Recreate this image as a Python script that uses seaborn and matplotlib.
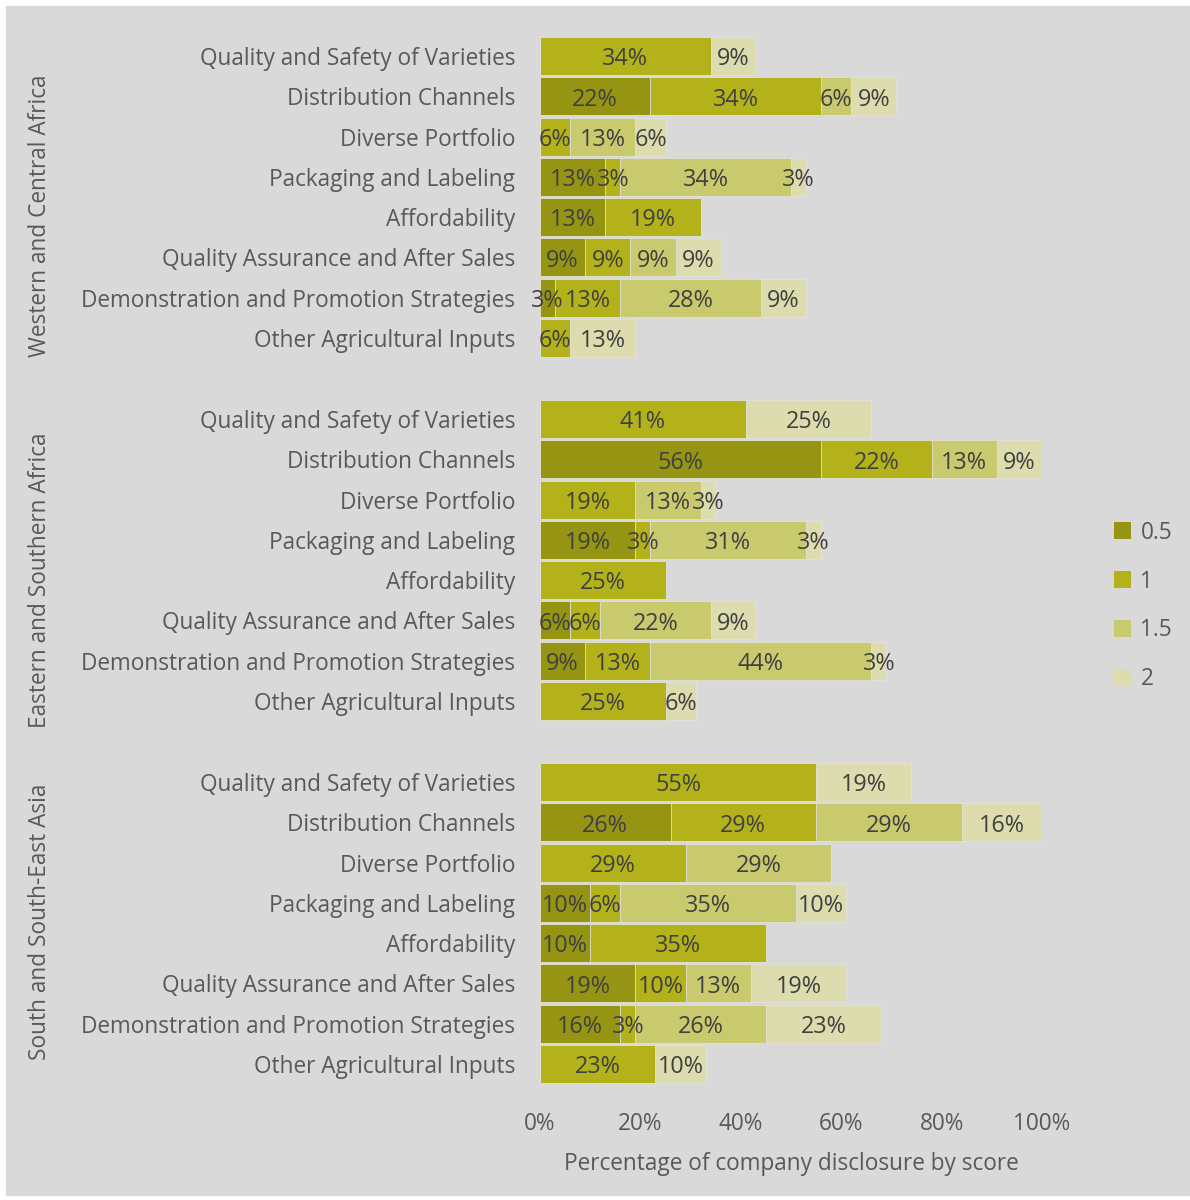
import numpy as np
import pandas as pd
import seaborn as sns
import matplotlib.pyplot as plt
from matplotlib.patches import Patch

# categories / groups / score levels
categories = ["Quality and Safety of Varieties", "Distribution Channels", "Diverse Portfolio",
              "Packaging and Labeling", "Affordability", "Quality Assurance and After Sales",
              "Demonstration and Promotion Strategies", "Other Agricultural Inputs"]
regions = ["Western and Central Africa", "Eastern and Southern Africa", "South and South-East Asia"]
scores = ["0.5", "1", "1.5", "2"]
ticks = [0, 20, 40, 60, 80, 100]

# percentage of companies per score (columns: 0.5, 1, 1.5, 2)
wca = [[0, 34, 0, 9], [22, 34, 6, 9], [0, 6, 13, 6], [13, 3, 34, 3],
       [13, 19, 0, 0], [9, 9, 9, 9], [3, 13, 28, 9], [0, 6, 0, 13]]
esa = [[0, 41, 0, 25], [56, 22, 13, 9], [0, 19, 13, 3], [19, 3, 31, 3],
       [0, 25, 0, 0], [6, 6, 22, 9], [9, 13, 44, 3], [0, 25, 0, 6]]
ssea = [[0, 55, 0, 19], [26, 29, 29, 16], [0, 29, 29, 0], [10, 6, 35, 10],
        [10, 35, 0, 0], [19, 10, 13, 19], [16, 3, 26, 23], [0, 23, 0, 10]]
region_data = [wca, esa, ssea]

colors = ["#959513", "#b3b21a", "#c9c96e", "#dcdcae"]
bg = "#d9d9d9"
label_col = "#595959"
value_col = "#404040"

sns.set_theme(style="white")
plt.rcParams['font.family'] = ['Open Sans', 'DejaVu Sans']

fig = plt.figure(figsize=(11.9, 12), dpi=100)
fig.patch.set_facecolor("white")
fig.add_artist(plt.Rectangle((6 / 1190, 0.004), 1 - 6 / 1190, 1 - 6 / 1200 - 0.004,
                             transform=fig.transFigure, color=bg, zorder=-10))

W, H = 1190, 1200
panel_tops = [36, 399, 762]
group_label_y = [216, 580, 922]
panel_h = 322
ax_left, ax_w = 540, 502

for p, (reg, data) in enumerate(zip(regions, region_data)):
    top = panel_tops[p]
    ax = fig.add_axes([ax_left / W, 1 - (top + panel_h) / H, ax_w / W, panel_h / H])
    ax.set_facecolor(bg)
    df = pd.DataFrame(data, columns=scores)
    df["category"] = categories
    cum = df[scores].cumsum(axis=1)
    # draw cumulative bars from the back so the segments stack
    for j in range(len(scores) - 1, -1, -1):
        sns.barplot(x=cum[scores[j]], y=df["category"], orient="h", color=colors[j],
                    width=0.95, edgecolor="#e2e2da", linewidth=0.6, saturation=1, ax=ax)
    left = np.zeros(len(categories))
    for j, s in enumerate(scores):
        vals = df[s].values
        for i, v in enumerate(vals):
            if v > 0:
                ax.text(left[i] + v / 2, i + 0.08, f"{v}%", ha="center", va="center",
                        fontsize=16.8, color=value_col)
        left = left + vals
    ax.set_xlim(0, 100)
    ax.set_ylim(7.5, -0.5)
    ax.set_xlabel("")
    ax.set_ylabel("")
    for sp in ax.spines.values():
        sp.set_visible(False)
    ax.tick_params(axis="y", length=0, pad=18, labelsize=16.3, labelcolor=label_col)
    if p == 2:
        ax.set_xticks(ticks)
        ax.set_xticklabels([f"{t}%" for t in ticks])
        ax.tick_params(axis="x", length=0, pad=20, labelsize=16.3, labelcolor=label_col)
        ax.set_xlabel("Percentage of company disclosure by score", fontsize=16.3,
                      color=label_col, labelpad=12)
    else:
        ax.set_xticks([])
    fig.text(40 / W, 1 - group_label_y[p] / H, reg, rotation=90, ha="center", va="center",
             fontsize=16.3, color=label_col)

handles = [Patch(facecolor=c, edgecolor="none") for c in colors]
fig.legend(handles, scores, loc="center left", bbox_to_anchor=(1094 / W, 1 - 606 / H),
           frameon=False, fontsize=16.3, labelcolor=label_col, handlelength=0.75,
           handleheight=0.75, handletextpad=0.4, labelspacing=1.1)

fig.savefig("out.png", dpi=100, facecolor="white")
